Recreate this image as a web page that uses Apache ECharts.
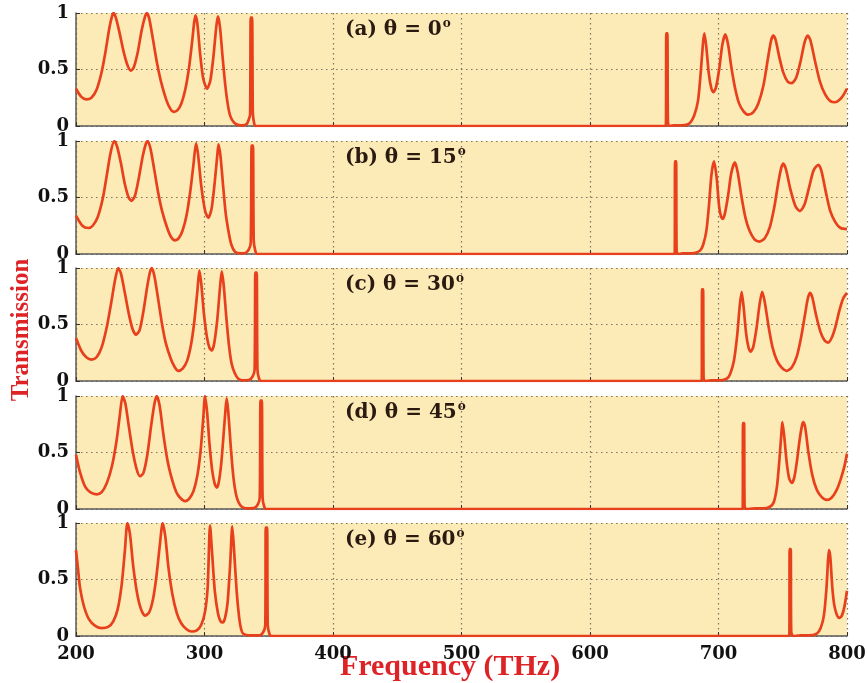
<!DOCTYPE html>
<html>
<head>
<meta charset="utf-8">
<script src="https://cdn.jsdelivr.net/npm/echarts@6/dist/echarts.min.js"></script>
<style>
  html, body { margin: 0; padding: 0; background: #fff; }
  #main { width: 867px; height: 683px; }
</style>
</head>
<body>
<div id="main"></div>
<script>
// transmission curves, [frequency THz, T]
var panelA = [
  [200, 0.33], [204, 0.26], [208, 0.235], [212, 0.25], [216, 0.32], [220, 0.48], [223, 0.66], [226, 0.87],
  [228, 0.97], [229.2, 1.0], [231, 0.96], [234, 0.82], [237, 0.66], [240, 0.54], [242.7, 0.49], [245, 0.52],
  [248, 0.65], [251, 0.84], [253.5, 0.96], [255.2, 1.0], [257, 0.95], [260, 0.76], [263, 0.56], [266, 0.40],
  [270, 0.24], [273, 0.16], [276, 0.125], [279, 0.14], [282, 0.2], [285, 0.32], [288, 0.52], [290.5, 0.76],
  [292, 0.92], [293, 0.98], [294.5, 0.9], [296.5, 0.65], [299, 0.42], [302, 0.33], [304.5, 0.4], [307, 0.62],
  [309, 0.86], [310.4, 0.97], [312, 0.88], [314, 0.62], [316, 0.38], [318, 0.2], [320, 0.09], [323, 0.03],
  [326, 0.01], [330, 0.005], [333, 0.02], [334.5, 0.06], [335.5, 0.1], [336, 0.96], [337, 0.96],
  [337.6, 0.12], [338.5, 0.03], [339.6, 0], [345, 0], [655, 0], [659, 0], [659.4, 0.82], [660.2, 0.82],
  [660.6, 0.05], [661.5, 0], [665, 0.005], [672, 0.005], [675, 0.01], [678, 0.03], [681, 0.09], [684, 0.22],
  [686, 0.45], [688, 0.74], [689, 0.82], [690.5, 0.7], [692.5, 0.46], [694.5, 0.33], [696, 0.30], [698, 0.34],
  [700.5, 0.5], [703, 0.72], [705.3, 0.81], [707.5, 0.72], [710, 0.52], [713, 0.33], [716, 0.2],
  [719.5, 0.13], [723.2, 0.10], [727, 0.12], [731, 0.2], [735, 0.36], [738.5, 0.6], [741, 0.76],
  [742.7, 0.80], [744.5, 0.76], [747.5, 0.6], [750.5, 0.47], [754, 0.39], [757, 0.38], [760.5, 0.43],
  [764, 0.58], [767, 0.74], [769.4, 0.80], [771.5, 0.76], [775, 0.58], [779, 0.39], [783, 0.28],
  [787, 0.22], [790.7, 0.21], [794, 0.23], [797, 0.27], [800, 0.33]
];
var panelB = [
  [200, 0.34], [205, 0.25], [209.6, 0.23], [213, 0.25], [217, 0.33], [221, 0.5], [224, 0.7], [227, 0.9],
  [229.8, 1.0], [232, 0.95], [235, 0.8], [238, 0.62], [241, 0.5], [243.3, 0.47], [246, 0.52], [249, 0.68],
  [252, 0.87], [254.5, 0.98], [255.8, 1.0], [258, 0.93], [261, 0.74], [264, 0.54], [267, 0.38], [271, 0.23],
  [274, 0.15], [277, 0.12], [280, 0.14], [283, 0.21], [286, 0.34], [289, 0.56], [291.5, 0.8], [293.4, 0.98],
  [295, 0.88], [297.5, 0.6], [300.5, 0.38], [303, 0.32], [305.5, 0.4], [308, 0.64], [310, 0.88],
  [310.9, 0.97], [312.5, 0.86], [314.5, 0.6], [316.5, 0.36], [319, 0.18], [321, 0.08], [323.7, 0.02],
  [328, 0.005], [332, 0.01], [334.5, 0.04], [336, 0.1], [336.7, 0.96], [337.7, 0.96], [338.3, 0.12],
  [339.5, 0.03], [341, 0], [345, 0], [660, 0], [665.9, 0], [666.2, 0.82], [667, 0.82], [667.4, 0.03], [668.5, 0],
  [672, 0.005], [680, 0.005], [682, 0.01], [685.6, 0.03], [688, 0.08], [690.5, 0.2], [692.5, 0.42],
  [694.5, 0.7], [696.5, 0.82], [698.5, 0.68], [700.5, 0.42], [702, 0.33], [703.2, 0.31], [705, 0.36],
  [707.5, 0.52], [710, 0.72], [712.8, 0.81], [715, 0.72], [718, 0.5], [721, 0.32], [724, 0.21],
  [728, 0.13], [731.8, 0.11], [736, 0.14], [740, 0.24], [743.5, 0.42], [746.5, 0.63], [748.8, 0.76],
  [750.4, 0.80], [752.5, 0.75], [756, 0.57], [760, 0.42], [763.4, 0.38], [767, 0.44], [770.5, 0.59],
  [774, 0.74], [777.7, 0.79], [780, 0.74], [783.5, 0.55], [787, 0.38], [791, 0.28], [795, 0.23],
  [800, 0.22]
];
var panelC = [
  [200, 0.38], [204, 0.27], [208, 0.21], [212.2, 0.19], [216, 0.21], [220, 0.3], [224, 0.48], [227.5, 0.7],
  [230.5, 0.9], [232.9, 1.0], [235, 0.95], [238, 0.78], [241, 0.6], [244, 0.46], [246.7, 0.41],
  [249.5, 0.45], [252.5, 0.62], [255.5, 0.84], [257.5, 0.96], [258.9, 1.0], [261, 0.93], [264, 0.72],
  [267, 0.5], [270, 0.33], [274, 0.19], [277, 0.12], [279.6, 0.09], [283, 0.11], [286.5, 0.18],
  [289.5, 0.32], [292, 0.52], [294.5, 0.8], [296, 0.98], [297.5, 0.86], [299.5, 0.6], [302, 0.38],
  [304, 0.29], [305.6, 0.27], [307.5, 0.33], [310, 0.55], [312, 0.82], [313.4, 0.97], [315, 0.84],
  [317, 0.56], [319, 0.32], [321, 0.16], [323.5, 0.07], [326.3, 0.02], [330, 0.005], [335, 0.01],
  [337.5, 0.04], [339, 0.1], [339.6, 0.96], [340.6, 0.96], [341.2, 0.1], [342.5, 0.02], [344, 0],
  [348, 0], [682, 0], [686.9, 0], [687.2, 0.81], [688, 0.81], [688.4, 0.03], [689.5, 0], [694, 0.005], [700, 0.005],
  [706.3, 0.02], [709, 0.06], [712, 0.18], [714.5, 0.4], [716.5, 0.66], [718, 0.79], [719.5, 0.66],
  [721.5, 0.42], [723.5, 0.29], [725, 0.26], [727, 0.3], [729.5, 0.46], [732, 0.68], [734, 0.79],
  [736, 0.7], [739, 0.48], [742, 0.3], [745.5, 0.18], [749, 0.12], [753, 0.09], [757, 0.12], [761, 0.22],
  [764.5, 0.4], [767.5, 0.6], [769.5, 0.73], [771.2, 0.78], [773, 0.74], [776, 0.58], [779.5, 0.43],
  [782.5, 0.36], [785.4, 0.34], [788, 0.38], [791, 0.48], [794, 0.62], [797, 0.73], [800, 0.78]
];
var panelD = [
  [200, 0.48], [203, 0.33], [207, 0.2], [211, 0.15], [216.1, 0.13], [220, 0.15], [224, 0.23], [228, 0.38],
  [231.5, 0.6], [234, 0.82], [236.3, 1.0], [238.5, 0.93], [241, 0.74], [244, 0.52], [247, 0.36],
  [249.8, 0.29], [252.5, 0.32], [255.5, 0.48], [258.5, 0.74], [261, 0.93], [262.8, 1.0], [265, 0.92],
  [268, 0.66], [271, 0.44], [274, 0.29], [278, 0.15], [281, 0.1], [284.8, 0.07], [288, 0.09],
  [291.5, 0.16], [294.5, 0.3], [297, 0.52], [299, 0.8], [300.4, 1.0], [302, 0.86], [304, 0.56],
  [306, 0.34], [308, 0.22], [309.5, 0.19], [311, 0.23], [313, 0.4], [315, 0.68], [316.5, 0.9],
  [317.3, 0.98], [318.5, 0.86], [320.5, 0.54], [322.5, 0.28], [324.5, 0.13], [326.5, 0.06], [329, 0.02],
  [333, 0.005], [339, 0.01], [341.5, 0.04], [343, 0.1], [343.6, 0.96], [344.6, 0.96], [345.2, 0.1],
  [346.5, 0.02], [348, 0], [352, 0], [714, 0], [718.8, 0], [719.1, 0.76], [719.9, 0.76], [720.3, 0.03], [721.5, 0],
  [728, 0.005], [735, 0.005], [740, 0.02], [743, 0.06], [745.5, 0.2], [747.5, 0.45], [749, 0.68],
  [749.7, 0.77], [751, 0.66], [753, 0.42], [755, 0.27], [757, 0.23], [759, 0.28], [761, 0.42],
  [763, 0.6], [765, 0.74], [766, 0.77], [767.5, 0.72], [770, 0.5], [773, 0.3], [776.5, 0.17],
  [780, 0.11], [784.2, 0.08], [788, 0.1], [792, 0.17], [795, 0.26], [798, 0.38], [800, 0.49]
];
var panelE = [
  [200, 0.76], [201.5, 0.6], [203.1, 0.43], [206, 0.27], [210, 0.15], [215, 0.09], [220, 0.07], [225, 0.08],
  [229, 0.13], [232.5, 0.24], [235.5, 0.45], [238, 0.75], [240, 1.0], [242, 0.9], [244.5, 0.62],
  [247.5, 0.38], [250.5, 0.24], [253.7, 0.18], [257, 0.21], [260, 0.33], [262.5, 0.52], [265, 0.78],
  [267.5, 1.0], [269.5, 0.88], [272, 0.6], [275, 0.37], [278.5, 0.2], [282, 0.11], [286, 0.06],
  [290, 0.04], [294, 0.05], [297.5, 0.1], [300.5, 0.22], [302.5, 0.44], [304.3, 0.98], [306, 0.72],
  [308, 0.4], [310.5, 0.2], [312.5, 0.13], [314.2, 0.12], [316, 0.16], [318, 0.3], [320, 0.64],
  [321.6, 0.97], [323, 0.76], [325, 0.4], [327, 0.16], [328.5, 0.06], [330.2, 0.02], [335, 0.005],
  [343, 0.005], [346, 0.04], [347.3, 0.1], [347.7, 0.96], [348.7, 0.96], [349.2, 0.1], [350.5, 0.02],
  [352, 0], [356, 0], [750, 0], [755.1, 0], [755.4, 0.77], [756.2, 0.77], [756.6, 0.04], [758, 0], [764, 0.005],
  [770, 0.005], [776.4, 0.02], [779.5, 0.07], [782, 0.18], [784, 0.42], [785.3, 0.68], [786, 0.76],
  [787, 0.7], [788.5, 0.44], [790, 0.28], [792, 0.19], [794, 0.16], [796, 0.18], [798, 0.26], [800, 0.40]
];

var panels = [panelA, panelB, panelC, panelD, panelE];
var panelTags = ['(a)', '(b)', '(c)', '(d)', '(e)'];
var angles = ['0', '15', '30', '45', '60'];
var gridTops = [13, 141, 268, 396, 523];

var lineColor = '#e8401c';
var redText = '#dd2326';
var tickFont = 'DejaVu Serif';

var myChart = echarts.init(document.getElementById('main'));

var grids = [], xAxes = [], yAxes = [], series = [], titles = [];
for (var i = 0; i < panels.length; i++) {
  var last = i === panels.length - 1;
  grids.push({
    left: 76, right: 20, top: gridTops[i], height: 113,
    outerBoundsMode: 'none', containLabel: false,
    show: true, backgroundColor: '#fdebb7', borderWidth: 0
  });
  xAxes.push({
    gridIndex: i, type: 'value', min: 200, max: 800, interval: 100,
    axisLine: { show: true, onZero: false, lineStyle: { color: '#5a5a5a', width: 1.5 } },
    axisTick: { show: true, inside: true, length: 4, lineStyle: { color: '#333' } },
    splitLine: { show: true, lineStyle: { color: '#7a7460', type: [1.5, 3.5], width: 1.2 } },
    axisLabel: {
      show: last, margin: 9, color: '#111', fontFamily: tickFont, fontWeight: 'bold', fontSize: 18
    }
  });
  yAxes.push({
    gridIndex: i, type: 'value', min: 0, max: 1, interval: 0.5,
    axisLine: { show: true, lineStyle: { color: '#5a5a5a', width: 1.5 } },
    axisTick: { show: true, inside: true, length: 4, lineStyle: { color: '#333' } },
    splitLine: { show: true, lineStyle: { color: '#7a7460', type: [1.5, 3.5], width: 1.2 } },
    axisLabel: { margin: 7, color: '#111', fontFamily: tickFont, fontWeight: 'bold', fontSize: 18 }
  });
  series.push({
    type: 'line', xAxisIndex: i, yAxisIndex: i, data: panels[i],
    showSymbol: false, smooth: 0.25,
    lineStyle: { color: lineColor, width: 2.7 }
  });
  titles.push({
    text: '{t|' + panelTags[i] + ' θ = ' + angles[i] + '}{s|o}',
    left: 345, top: gridTops[i] + 5, padding: 0,
    textStyle: {
      rich: {
        t: { fontFamily: tickFont, fontWeight: 'bold', fontSize: 20, color: '#2a1a10', lineHeight: 24 },
        s: { fontFamily: tickFont, fontWeight: 'bold', fontSize: 12, color: '#2a1a10', padding: [0, 0, 12, 1] }
      }
    }
  });
}

myChart.setOption({
  backgroundColor: '#ffffff',
  animation: false,
  title: titles,
  grid: grids,
  xAxis: xAxes,
  yAxis: yAxes,
  series: series,
  graphic: [{
    type: 'text', x: 22, y: 330, rotation: Math.PI / 2,
    style: {
      text: 'Transmission', fill: redText, font: 'bold 25px "Liberation Serif"',
      align: 'center', verticalAlign: 'middle'
    }
  }, {
    type: 'text', x: 450, y: 667,
    style: {
      text: 'Frequency (THz)', fill: redText, font: 'bold 30px "Liberation Serif"',
      align: 'center', verticalAlign: 'middle'
    }
  }]
});
</script>
</body>
</html>
